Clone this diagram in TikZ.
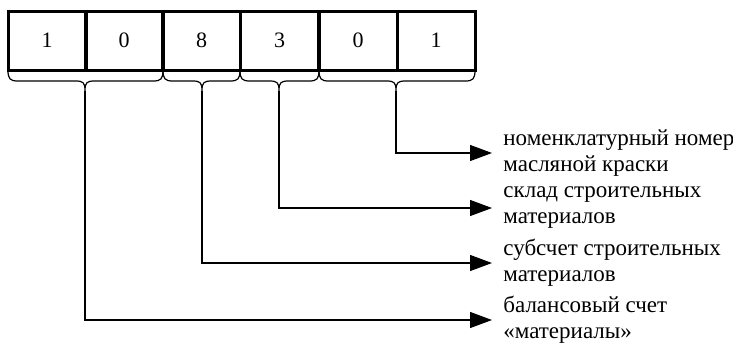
\documentclass[tikz,border=0pt]{standalone}
\usepackage{fontspec}
\setmainfont{Liberation Serif}
\usetikzlibrary{arrows.meta}
\tikzset{
  cell/.style={draw, line width=1.5pt, minimum width=39pt, minimum height=29.5pt, inner sep=0pt, font=\fontsize{11pt}{12pt}\selectfont},
  bracel/.style={line width=0.6pt},
  conn/.style={line width=0.6pt, -{Triangle[length=11pt,width=8pt]}},
  lbl/.style={anchor=west, align=left, inner xsep=5.5pt, inner ysep=0pt, font=\fontsize{11.5pt}{13pt}\selectfont}
}
\newcommand{\mybrace}[4]{% x0, xm, x1, name
  \draw[bracel] (#1,70) .. controls (#1,79) and (#1+2,81) .. (#1+10,81) -- (#2-10,81)
    .. controls (#2-2,81) and (#2,82) .. (#2,91) coordinate (#4)
    .. controls (#2,82) and (#2+2,81) .. (#2+10,81) -- (#3-10,81)
    .. controls (#3-2,81) and (#3,79) .. (#3,70);
}
\begin{document}
\begin{tikzpicture}[x=0.5pt,y=-0.5pt]
\useasboundingbox (0,0) rectangle (733,343);
\node[cell] (c1) at (47,40.5) {1};
\node[cell] (c2) at (124,40.5) {0};
\node[cell] (c3) at (201.5,40.5) {8};
\node[cell] (c4) at (279.5,40.5) {3};
\node[cell] (c5) at (358,40.5) {0};
\node[cell] (c6) at (436,40.5) {1};
\mybrace{8}{85}{163}{b1}
\mybrace{163}{202}{240}{b2}
\mybrace{240}{279}{319}{b3}
\mybrace{319}{396}{475}{b4}
\node[lbl] (t1) at (492,153) {номенклатурный номер\\масляной краски};
\node[lbl] (t2) at (492,208) {склад строительных\\материалов};
\node[lbl] (t3) at (492,263) {субсчет строительных\\материалов};
\node[lbl] (t4) at (492,320) {балансовый счет\\«материалы»};
\draw[conn] (b4) |- (t1.west);
\draw[conn] (b3) |- (t2.west);
\draw[conn] (b2) |- (t3.west);
\draw[conn] (b1) |- (t4.west);
\end{tikzpicture}
\end{document}
